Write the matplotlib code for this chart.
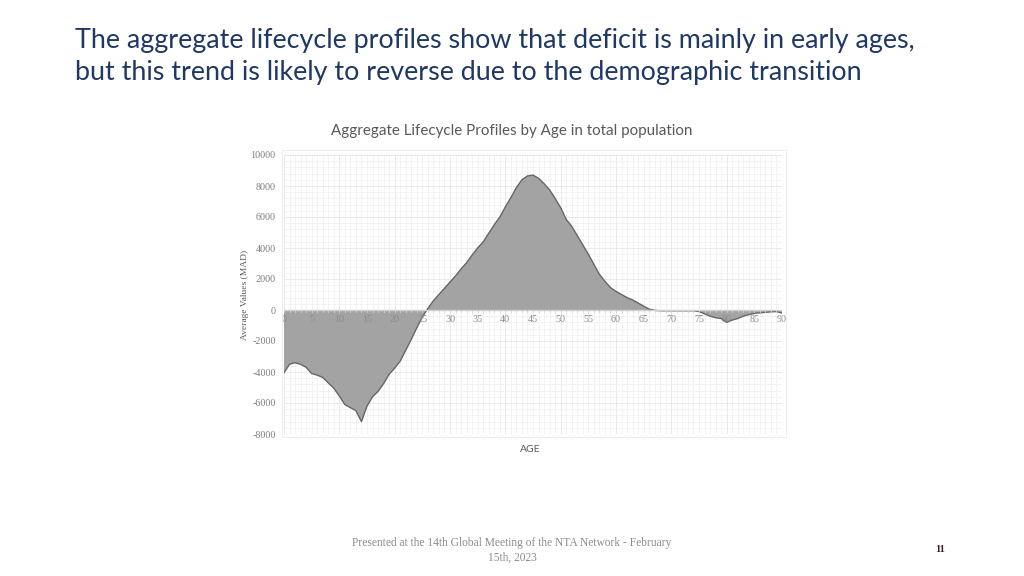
import matplotlib.pyplot as plt
import numpy as np
from matplotlib.ticker import MultipleLocator

# Aggregate lifecycle deficit by single year of age (MAD)
ages = np.arange(0, 91)
values = [
    -4050, -3500, -3400, -3500, -3700, -4100, -4200, -4350, -4700, -5050,
    -5550, -6100, -6300, -6500, -7200, -6200, -5600, -5250, -4750, -4150,
    -3750, -3300, -2600, -1900, -1150, -450, 100, 600, 1000, 1400,
    1800, 2200, 2650, 3050, 3550, 4000, 4400, 4950, 5500, 6000,
    6650, 7250, 7900, 8400, 8650, 8700, 8500, 8150, 7750, 7200,
    6600, 5850, 5400, 4800, 4200, 3600, 2950, 2300, 1850, 1450,
    1200, 1000, 800, 650, 450, 250, 50, -20, -50, -50,
    -50, -50, -50, -50, -50, -100, -250, -400, -500, -550,
    -800, -650, -550, -400, -300, -220, -180, -150, -120, -100,
    -200,
]
x_ticks = list(range(0, 95, 5))
y_ticks = list(range(-8000, 10001, 2000))

slide_title = ("The aggregate lifecycle profiles show that deficit is mainly in early ages,\n"
               "but this trend is likely to reverse due to the demographic transition")
chart_title = "Aggregate Lifecycle Profiles by Age in total population"
footer = "Presented at the 14th Global Meeting of the NTA Network - February\n15th, 2023"

fig = plt.figure(figsize=(10.24, 5.76), dpi=100)
W, H = 1024, 576

fig.text(75 / W, 1 - 28 / H, slide_title, fontsize=19.4, family='Lato',
         color='#1f3864', va='top', ha='left', linespacing=1.33)

ax = fig.add_axes([284 / W, 1 - 434 / H, (782 - 284) / W, (434 - 155) / H])
ax.fill_between(ages, values, 0, color='#a3a3a3', edgecolor='none', zorder=3)
ax.plot(ages, values, color='#666666', lw=1.0, zorder=4)

ax.set_xlim(0, 90)
ax.set_ylim(-8000, 10000)
ax.set_yticks(y_ticks)
ax.yaxis.set_minor_locator(MultipleLocator(400))
ax.xaxis.set_minor_locator(MultipleLocator(1))
ax.grid(which='major', color='#e6e6e6', lw=0.6, zorder=0)
ax.grid(which='minor', color='#efefef', lw=0.5, zorder=0)
for s in ax.spines.values():
    s.set_visible(False)
ax.tick_params(axis='y', which='both', length=0, labelsize=7.3,
               labelcolor='#7f7f7f', pad=6)
ax.set_yticklabels([str(v) for v in y_ticks], family='Liberation Serif')
ax.tick_params(axis='x', which='both', length=0, labelbottom=False)

# zero line with small ticks, labels sit just below it
ax.axhline(0, color='#d0d0d0', lw=1.0, zorder=5)
for a in ages:
    ax.plot([a, a], [0, -120], color='#d0d0d0', lw=0.6, zorder=5)
for t in x_ticks:
    ax.text(t, -330, str(t), ha='center', va='top', fontsize=7.3,
            family='Liberation Serif', color='#8c8c8c', zorder=6)

# light chart frame
frame = plt.Rectangle((282 / W, 1 - 437 / H), (786 - 282) / W, (437 - 150) / H,
                      transform=fig.transFigure, fill=False, ec='#eeeeee', lw=0.8)
fig.add_artist(frame)

ax.set_ylabel('Average Values (MAD)', fontsize=6.8, family='Liberation Serif',
              color='#595959', labelpad=1)
fig.text(512 / W, 1 - 131 / H, chart_title, ha='center', va='center',
         fontsize=10.9, family='Lato', color='#595959')
fig.text(530 / W, 1 - 450 / H, 'AGE', ha='center', va='center',
         fontsize=7.5, family='Lato', color='#595959')

fig.text(512 / W, 1 - 550 / H, footer, ha='center', va='center', fontsize=8.3,
         family='Liberation Serif', color='#8c8c8c', linespacing=1.3)
fig.text(940 / W, 1 - 550 / H, '11', ha='center', va='center', fontsize=7.5,
         family='Liberation Serif', color='#3a1a1a', weight='bold')

fig.savefig('out.png', dpi=100)
